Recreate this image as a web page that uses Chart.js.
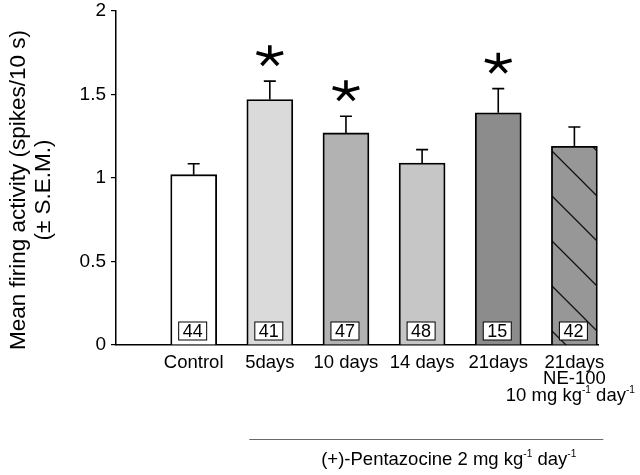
<!DOCTYPE html>
<html>
<head>
<meta charset="utf-8">
<script src="https://cdn.jsdelivr.net/npm/chart.js@4/dist/chart.umd.min.js"></script>
<style>
  html, body { margin: 0; padding: 0; background: #fff; }
  #wrap { width: 640px; height: 475px; position: relative; }
</style>
</head>
<body>
<div id="wrap"><canvas id="firingChart" width="640" height="475"></canvas></div>
<script>
// Data
const groups = ['Control', '5days', '10 days', '14 days', '21days', '21days'];
const extraLines = [null, null, null, null, null, 'NE-100'];
const meanFiring = [1.02, 1.47, 1.27, 1.09, 1.39, 1.19];
const semFiring = [0.065, 0.11, 0.10, 0.08, 0.145, 0.115];
const cellCounts = [44, 41, 47, 48, 15, 42];
const significant = [false, true, true, false, true, false];
const yTicks = [0, 0.5, 1, 1.5, 2];

const FONT = '"Liberation Sans", Arial, Helvetica, sans-serif';

// hatch for the NE-100 bar (diagonal lines down to the right)
function makeHatch(base) {
    const c = document.createElement('canvas');
    c.width = 45; c.height = 45;
    const g = c.getContext('2d');
    g.fillStyle = base;
    g.fillRect(0, 0, 45, 45);
    g.strokeStyle = '#111';
    g.lineWidth = 1.3;
    g.beginPath();
    g.moveTo(-5, -5); g.lineTo(50, 50);
    g.moveTo(-5, 40); g.lineTo(5, 50);
    g.moveTo(40, -5); g.lineTo(50, 5);
    g.stroke();
    const p = g.createPattern(c, 'repeat');
    p.setTransform(new DOMMatrix().translateSelf(0, 4));
    return p;
}

const ctx = document.getElementById('firingChart').getContext('2d');
const barColors = ['#ffffff', '#dadada', '#b2b2b2', '#c6c6c6', '#8c8c8c', makeHatch('#979797')];

// text centred on x, with small raised parts
function drawSupText(g, parts, x, y, size) {
    let total = 0;
    parts.forEach(([t, sup]) => {
        g.font = (sup ? size * 0.55 : size) + 'px ' + FONT;
        total += g.measureText(t).width;
    });
    let cx = x - total / 2;
    parts.forEach(([t, sup]) => {
        g.font = (sup ? size * 0.55 : size) + 'px ' + FONT;
        g.textAlign = 'left';
        g.fillText(t, cx, sup ? y - size * 0.33 : y);
        cx += g.measureText(t).width;
    });
}

const annotations = {
    id: 'annotations',
    afterDatasetsDraw(chart) {
        const g = chart.ctx;
        const xs = chart.scales.x, ys = chart.scales.y;
        g.save();
        g.fillStyle = '#000';
        g.strokeStyle = '#000';
        g.textBaseline = 'middle';

        meanFiring.forEach((m, i) => {
            const cx = xs.getPixelForValue(i + 1);
            const top = ys.getPixelForValue(m);
            const errTop = ys.getPixelForValue(m + semFiring[i]);

            // error bar
            g.strokeStyle = '#000';
            g.lineWidth = 1.6;
            g.beginPath();
            g.moveTo(cx, top);
            g.lineTo(cx, errTop);
            g.moveTo(cx - 6, errTop);
            g.lineTo(cx + 6, errTop);
            g.stroke();

            // n box
            const bx = cx - 1, by = ys.getPixelForValue(0) - 14;
            g.fillStyle = '#fff';
            g.fillRect(bx - 14, by - 9, 28, 18);
            g.lineWidth = 1;
            g.strokeRect(bx - 14, by - 9, 28, 18);
            g.fillStyle = '#000';
            g.font = '18px ' + FONT;
            g.textAlign = 'center';
            g.fillText(String(cellCounts[i]), bx, by + 1);

            // significance asterisk (5 arms)
            if (significant[i]) {
                const ay = errTop - 25;
                g.lineWidth = 3.6;
                g.lineCap = 'butt';
                g.beginPath();
                for (let k = 0; k < 5; k++) {
                    const a = (-90 + k * 72) * Math.PI / 180;
                    g.moveTo(cx, ay);
                    g.lineTo(cx + 14 * Math.cos(a), ay + 11 * Math.sin(a));
                }
                g.stroke();
            }

            // category labels
            g.font = '18.5px ' + FONT;
            g.textAlign = 'center';
            g.fillText(groups[i], cx, 363);
            if (extraLines[i]) {
                g.fillText(extraLines[i], cx, 379);
                drawSupText(g, [['10 mg kg', false], ['-1', true], [' day', false], ['-1', true]], cx - 4, 396, 18.5);
            }
        });

        // treatment bracket and its label
        const x1 = xs.getPixelForValue(1.73), x2 = xs.getPixelForValue(6.38);
        g.strokeStyle = '#6a6a6a';
        g.lineWidth = 1;
        g.beginPath();
        g.moveTo(x1, 439.5);
        g.lineTo(x2, 439.5);
        g.stroke();
        g.fillStyle = '#000';
        drawSupText(g, [['(+)-Pentazocine 2 mg kg', false], ['-1', true], [' day', false], ['-1', true]],
            xs.getPixelForValue(4.35), 460, 18.5);

        // y axis title, two lines rotated
        g.save();
        g.translate(0, (chart.chartArea.top + chart.chartArea.bottom) / 2 + 12);
        g.rotate(-Math.PI / 2);
        g.font = '22.5px ' + FONT;
        g.textAlign = 'center';
        g.fillText('Mean firing activity (spikes/10 s)', 0, 19);
        g.fillText('(\u00B1 S.E.M.)', 0, 44);
        g.restore();

        g.restore();
    }
};

new Chart(ctx, {
    type: 'bar',
    data: {
        datasets: [{
            data: meanFiring.map((v, i) => ({ x: i + 1, y: v })),
            backgroundColor: barColors,
            borderColor: '#000',
            borderWidth: 1.8,
            borderSkipped: 'bottom',
            barThickness: 46,
        }],
    },
    options: {
        responsive: false,
        animation: false,
        events: [],
        layout: { padding: { top: 11, right: 42, left: 0, bottom: 0 } },
        plugins: {
            legend: { display: false },
            tooltip: { enabled: false },
        },
        scales: {
            x: {
                type: 'linear',
                offset: false,
                min: -0.02,
                max: 6.31,
                grid: { display: false },
                border: { display: true, color: '#000', width: 1.5 },
                ticks: { display: false, stepSize: 1 },
                afterFit: scale => { scale.height = 130; },
            },
            y: {
                min: 0,
                max: 2,
                afterBuildTicks: scale => { scale.ticks = yTicks.map(v => ({ value: v })); },
                grid: { drawOnChartArea: false, drawTicks: true, tickLength: 5, color: '#000', lineWidth: 1.2 },
                border: { display: true, color: '#000', width: 1.5 },
                ticks: {
                    color: '#000',
                    padding: 5,
                    font: { family: FONT, size: 19, lineHeight: 1 },
                    callback: v => String(v),
                },
                afterFit: scale => {
                    scale.width = 116;
                    scale.paddingTop = 0;
                },
            },
        },
    },
    plugins: [annotations],
});
</script>
</body>
</html>
